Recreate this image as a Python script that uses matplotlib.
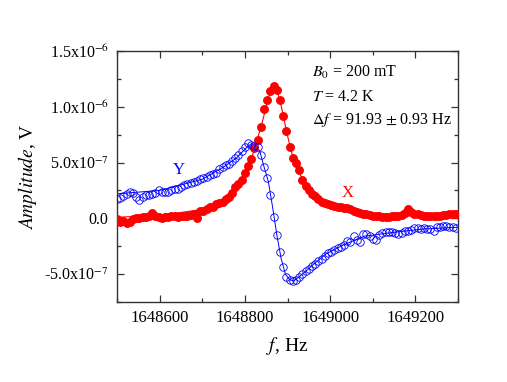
import numpy as np
import matplotlib
matplotlib.use("Agg")
import matplotlib.pyplot as plt
from matplotlib.ticker import MultipleLocator, FuncFormatter

plt.rcParams['font.family'] = ['Liberation Serif', 'DejaVu Serif']
plt.rcParams['mathtext.fontset'] = 'stix'

# frequency grid of the measurement (Hz)
f_start = 1648500
f_step = 7.5
n_pts = 107

# X component (in units of 1e-7 V)
x_vals = [-0.1, -0.3, -0.2, -0.45, -0.3, -0.1, 0.0, 0.05, 0.1, 0.1,
          0.2, 0.45, 0.2, 0.1, 0.05, 0.1, 0.15, 0.2, 0.2, 0.15,
          0.25, 0.2, 0.25, 0.3, 0.35, 0.0, 0.7, 0.65, 0.8, 1.0,
          1.05, 1.25, 1.4, 1.5, 1.7, 1.95, 2.3, 2.8, 3.1, 3.4,
          4.05, 4.7, 5.3, 6.3, 7.0, 8.2, 9.8, 10.6, 11.4, 11.9,
          11.5, 10.6, 9.2, 7.8, 6.4, 5.4, 5.0, 4.3, 3.4, 2.9,
          2.5, 2.2, 2.0, 1.7, 1.5, 1.35, 1.3, 1.2, 1.15, 1.0,
          1.05, 0.95, 0.9, 0.85, 0.7, 0.55, 0.5, 0.4, 0.35, 0.3,
          0.25, 0.2, 0.2, 0.15, 0.1, 0.15, 0.2, 0.25, 0.25, 0.3,
          0.45, 0.85, 0.55, 0.4, 0.35, 0.3, 0.25, 0.25, 0.25, 0.2,
          0.25, 0.25, 0.3, 0.3, 0.35, 0.4, 0.4]

# Y component (in units of 1e-7 V)
y_vals = [1.7, 1.8, 2.0, 2.2, 2.35, 2.25, 1.9, 1.6, 1.9, 2.05,
          2.1, 2.2, 2.3, 2.5, 2.4, 2.35, 2.4, 2.5, 2.6, 2.65,
          2.8, 2.95, 3.1, 3.15, 3.25, 3.35, 3.5, 3.6, 3.75, 3.9,
          3.95, 4.1, 4.4, 4.6, 4.75, 4.9, 5.15, 5.4, 5.7, 6.0,
          6.4, 6.75, 6.6, 6.45, 6.4, 5.7, 4.6, 3.6, 2.1, 0.1,
          -1.5, -3.0, -4.4, -5.3, -5.5, -5.6, -5.5, -5.25, -4.95, -4.75,
          -4.5, -4.25, -4.05, -3.85, -3.6, -3.4, -3.15, -3.0, -2.85, -2.7,
          -2.6, -2.4, -2.0, -2.15, -1.55, -1.9, -2.1, -1.4, -1.4, -1.55,
          -1.85, -1.95, -1.45, -1.35, -1.25, -1.25, -1.25, -1.3, -1.4, -1.35,
          -1.15, -1.1, -1.05, -0.9, -0.85, -0.95, -0.9, -0.95, -1.0, -1.1,
          -0.8, -0.75, -0.7, -0.7, -0.75, -0.8, -0.9]

# fitted curves
fitx_f = [1648500, 1648600, 1648700, 1648750, 1648780, 1648800, 1648820,
          1648840, 1648855, 1648865, 1648875, 1648885, 1648900, 1648915,
          1648930, 1648950, 1648980, 1649020, 1649100, 1649200, 1649300]
fitx_v = [0.1, 0.25, 0.8, 1.6, 2.9, 4.0, 5.9,
          8.5, 10.8, 11.9, 11.6, 10.1, 7.4, 5.1,
          3.9, 2.5, 1.5, 1.0, 0.45, 0.3, 0.25]

fity_f = [1648500, 1648600, 1648700, 1648750, 1648780, 1648800, 1648815,
          1648825, 1648835, 1648845, 1648855, 1648865, 1648875, 1648885,
          1648895, 1648905, 1648915, 1648925, 1648940, 1648960, 1648990,
          1649030, 1649080, 1649150, 1649220, 1649300]
fity_v = [2.2, 2.5, 3.5, 4.6, 5.4, 6.2, 6.7,
          6.6, 6.0, 4.6, 3.3, 1.0, -1.5, -3.6,
          -5.0, -5.5, -5.6, -5.3, -4.85, -4.15, -3.2,
          -2.4, -1.6, -1.25, -0.95, -0.8]

freq = f_start + f_step * np.arange(n_pts)
scale = 1e-7

fig = plt.figure(figsize=(5.07, 3.82), dpi=100)
ax = fig.add_axes([0.2308, 0.2094, 0.6726, 0.6571])

red = '#ff0000'
blue = '#0000ff'

ax.plot(fitx_f, np.array(fitx_v) * scale, color=red, lw=0.8, zorder=2)
ax.plot(freq, np.array(x_vals) * scale, 'o', color=red, ms=5.4, mec=red, zorder=3)
ax.plot(fity_f, np.array(fity_v) * scale, color=blue, lw=0.7, zorder=2)
ax.plot(freq, np.array(y_vals) * scale, 'o', mfc='none', mec=blue, ms=5.4, mew=0.6, zorder=4)

ax.set_xlim(1648500, 1649300)
ax.set_ylim(-7.5e-7, 1.5e-6)
ax.xaxis.set_major_locator(MultipleLocator(200))
ax.xaxis.set_minor_locator(MultipleLocator(100))
ax.yaxis.set_major_locator(MultipleLocator(5e-7))
ax.yaxis.set_minor_locator(MultipleLocator(2.5e-7))
ax.xaxis.set_major_formatter(FuncFormatter(lambda v, p: '%d' % round(v)))


def yfmt(v, p):
    if abs(v) < 1e-12:
        return '0.0'
    e = int(np.floor(np.log10(abs(v))))
    m = v / 10 ** e
    return r'%.1fx10$^{\mathrm{-%d}}$' % (m, -e)


ax.yaxis.set_major_formatter(FuncFormatter(yfmt))
ax.tick_params(which='both', direction='in', top=True, right=True,
               labelsize=11.5, colors='#333333', labelcolor='black')
ax.tick_params(axis='x', labelsize=12)
ax.tick_params(which='major', length=5, width=0.9, pad=6)
ax.tick_params(which='minor', length=3, width=0.9)
for s in ax.spines.values():
    s.set_color('#333333')
    s.set_linewidth(1.0)

ax.set_xlabel(r'$\mathit{f}$, Hz', fontsize=14, labelpad=6)
ax.set_ylabel(r'$\mathit{Amplitude}$, V', fontsize=14, labelpad=4)

ax.text(1648645, 4.3e-7, 'Y', color=blue, fontsize=12, ha='center', va='center')
ax.text(1649042, 2.3e-7, 'X', color=red, fontsize=12, ha='center', va='center')

ax.text(0.571, 0.915, r'$B_0$ = 200 mT', transform=ax.transAxes, fontsize=11.5, va='center')
ax.text(0.571, 0.815, r'$T$ = 4.2 K', transform=ax.transAxes, fontsize=11.5, va='center')
ax.text(0.571, 0.725, r'$\Delta f$ = 91.93 $\pm$ 0.93 Hz', transform=ax.transAxes, fontsize=11.5, va='center')

fig.savefig('out.png', dpi=100)
